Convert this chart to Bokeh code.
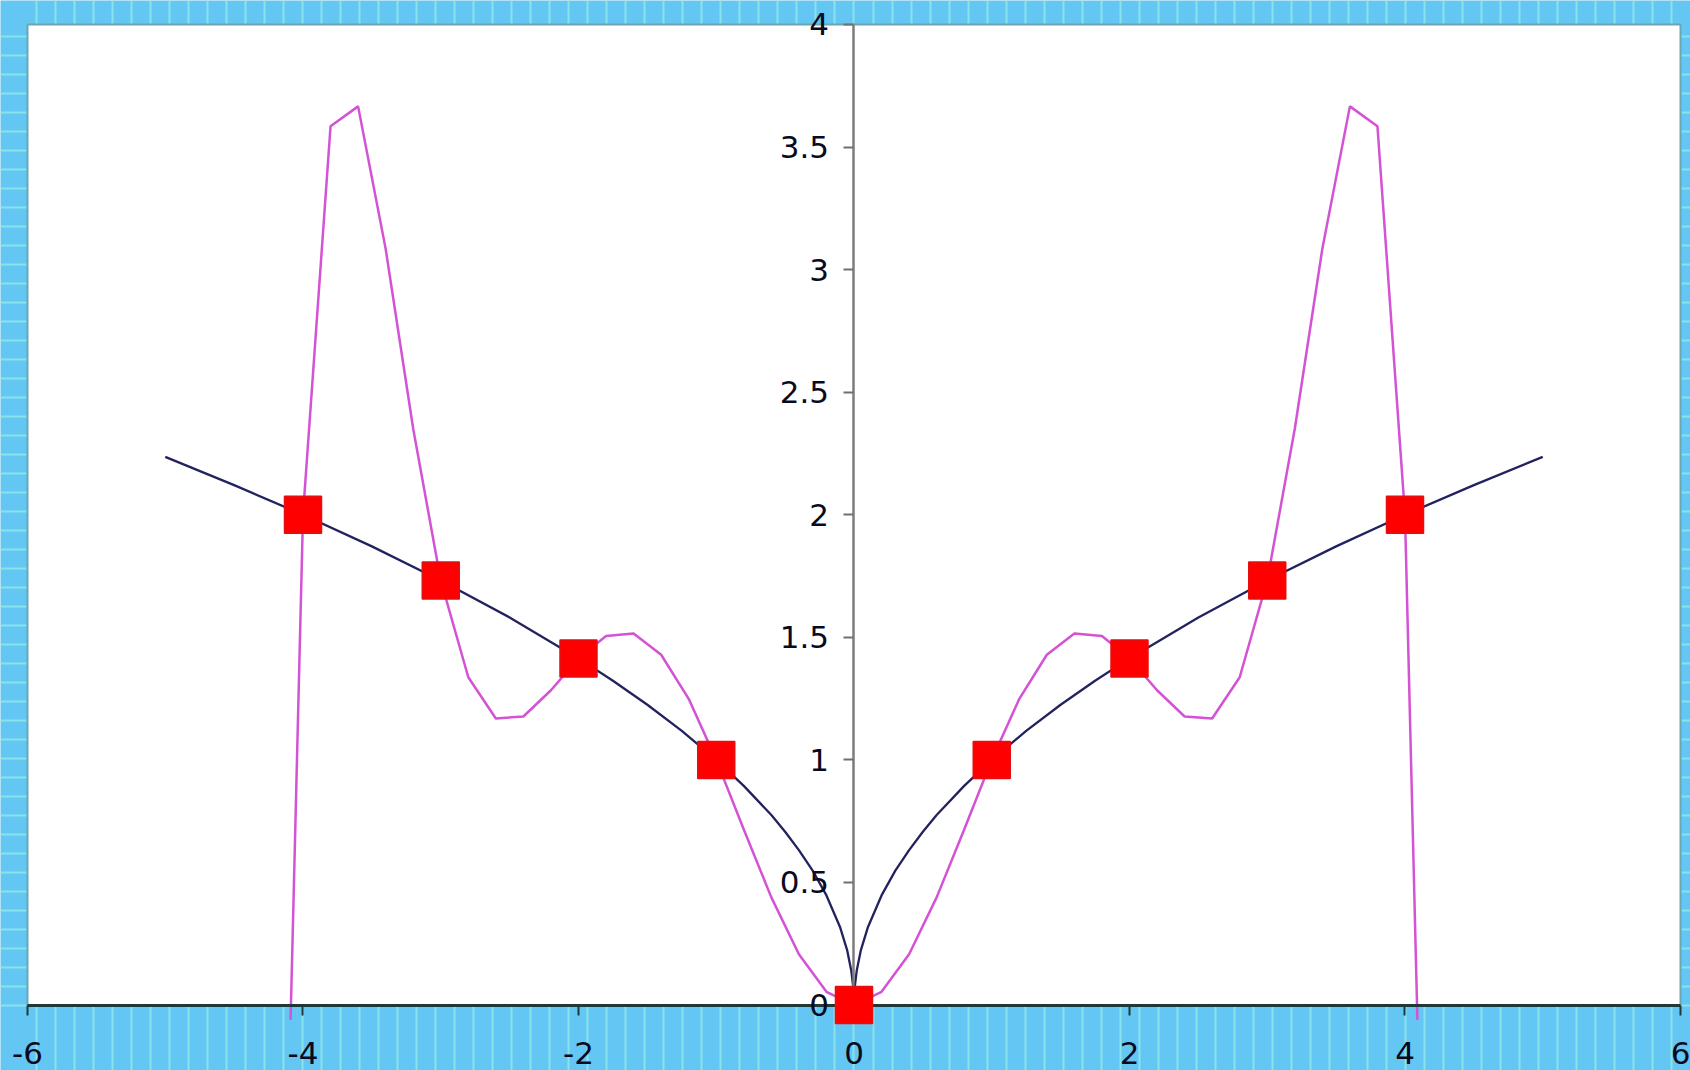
from bokeh.plotting import figure
from bokeh.models import FixedTicker, SingleIntervalTicker, CustomJSTickFormatter
from bokeh.embed import file_html
from bokeh.resources import INLINE

# ---- data ----
curve_x = [-5, -4.5, -4, -3.5, -3, -2.5, -2, -1.75, -1.5, -1.25, -1, -0.8, -0.6, -0.5,
           -0.4, -0.3, -0.2, -0.1, -0.05, -0.02, -0.005, 0, 0.005, 0.02, 0.05, 0.1, 0.2,
           0.3, 0.4, 0.5, 0.6, 0.8, 1, 1.25, 1.5, 1.75, 2, 2.5, 3, 3.5, 4, 4.5, 5]
curve_y = [2.236, 2.121, 2.0, 1.871, 1.732, 1.581, 1.414, 1.323, 1.225, 1.118, 1.0, 0.894,
           0.775, 0.707, 0.632, 0.548, 0.447, 0.316, 0.224, 0.141, 0.071, 0.0, 0.071, 0.141,
           0.224, 0.316, 0.447, 0.548, 0.632, 0.707, 0.775, 0.894, 1.0, 1.118, 1.225, 1.323,
           1.414, 1.581, 1.732, 1.871, 2.0, 2.121, 2.236]

poly_x = [-4.09, -4.0, -3.8, -3.6, -3.4, -3.2, -3.0, -2.8, -2.6, -2.4, -2.2, -2.0, -1.8,
          -1.6, -1.4, -1.2, -1.0, -0.8, -0.6, -0.4, -0.2, 0.0, 0.2, 0.4, 0.6, 0.8, 1.0,
          1.2, 1.4, 1.6, 1.8, 2.0, 2.2, 2.4, 2.6, 2.8, 3.0, 3.2, 3.4, 3.6, 3.8, 4.0, 4.09]
poly_y = [-0.06, 2.0, 3.585, 3.666, 3.085, 2.351, 1.732, 1.337, 1.169, 1.177, 1.284, 1.414,
          1.505, 1.516, 1.429, 1.249, 1.0, 0.716, 0.439, 0.207, 0.054, 0.0, 0.054, 0.207,
          0.439, 0.716, 1.0, 1.249, 1.429, 1.516, 1.505, 1.414, 1.284, 1.177, 1.169, 1.337,
          1.732, 2.351, 3.085, 3.666, 3.585, 2.0, -0.06]

node_x = [-4, -3, -2, -1, 0, 1, 2, 3, 4]
node_y = [2.0, 1.732, 1.414, 1.0, 0.0, 1.0, 1.414, 1.732, 2.0]

x_ticks = [-6, -4, -2, 0, 2, 4, 6]
y_ticks = [0, 0.5, 1, 1.5, 2, 2.5, 3, 3.5, 4]

# ---- styling ----
BLUE = "#63c6f3"
TEX = "#8ae2ea"
FONT = "DejaVu Sans"

p = figure(width=1690, height=1070, output_backend="svg", toolbar_location=None,
           x_range=(-6.196, 6.0726), y_range=(-0.2672, 4.0979),
           min_border=0, min_border_left=0, min_border_right=0,
           min_border_top=0, min_border_bottom=0)
p.background_fill_color = BLUE
p.border_fill_color = BLUE
p.outline_line_color = None

# background texture via grid lines
p.xgrid.ticker = SingleIntervalTicker(interval=0.138)
p.ygrid.ticker = SingleIntervalTicker(interval=0.0775)
for g in (p.xgrid, p.ygrid):
    g.grid_line_color = TEX
    g.grid_line_width = 2
    g.grid_line_alpha = 1.0

# white plot area
p.quad(left=-6, right=6, bottom=0, top=4, fill_color="white",
       line_color="#6aa6b4", line_width=2)

# lines
p.line(curve_x, curve_y, line_color="#22225e", line_width=2.3)
p.line(poly_x, poly_y, line_color="#d452d4", line_width=2.5)

# markers
sq = p.scatter(node_x, node_y, marker="square", size=37, fill_color="#ff0000",
               line_color="#e21010", line_width=1.5)
sq.level = "overlay"

fmt = CustomJSTickFormatter(code="return String(tick)")

xa = p.xaxis[0]
xa.fixed_location = 0
xa.bounds = (-6, 6)
xa.ticker = FixedTicker(ticks=x_ticks)
xa.formatter = fmt
xa.axis_line_color = "#1f3838"
xa.axis_line_width = 3
xa.major_tick_line_color = "#1f3838"
xa.major_tick_line_width = 2
xa.major_tick_out = 10
xa.major_tick_in = 0
xa.minor_tick_line_color = None
xa.major_label_standoff = 27
xa.major_label_text_font = FONT
xa.major_label_text_font_size = "31px"
xa.major_label_text_color = "#0a0a1e"

ya = p.yaxis[0]
ya.fixed_location = 0
ya.bounds = (0, 4)
ya.ticker = FixedTicker(ticks=y_ticks)
ya.formatter = fmt
ya.axis_line_color = "#7c7c7c"
ya.axis_line_width = 2.5
ya.major_tick_line_color = "#707070"
ya.major_tick_line_width = 2
ya.major_tick_out = 10
ya.major_tick_in = 0
ya.minor_tick_line_color = None
ya.major_label_standoff = 15
ya.major_label_text_font = FONT
ya.major_label_text_font_size = "31px"
ya.major_label_text_color = "#0a0a1e"

html = file_html(p, INLINE)
html = html.replace("<body>", '<body style="background-color:%s;">' % BLUE, 1)
open("out.html", "w").write(html)
